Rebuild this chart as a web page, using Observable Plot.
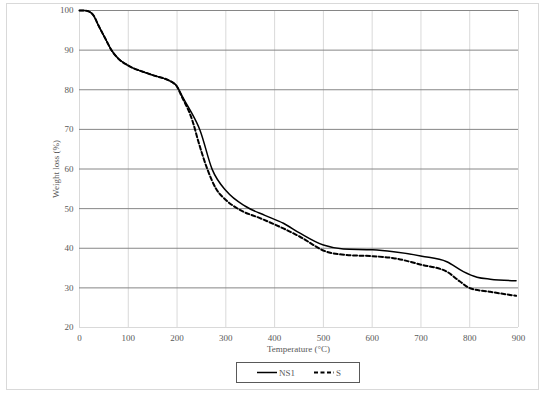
<!DOCTYPE html>
<html><head><meta charset="utf-8">
<script src="https://cdn.jsdelivr.net/npm/d3@7"></script>
<script src="https://cdn.jsdelivr.net/npm/@observablehq/plot@0.6"></script>
<style>
body{margin:0;background:#fff;width:550px;height:403px;position:relative;overflow:hidden;font-family:'Liberation Serif','Times New Roman',serif;}
#frame{position:absolute;left:6px;top:3px;width:533px;height:387px;border:1px solid #d9d9d9;box-sizing:border-box;}
#chart{position:absolute;left:0;top:0;}
#xlabel{position:absolute;left:0;width:550px;text-align:center;top:344px;font-size:9px;color:#595959;padding-left:47px;box-sizing:border-box;}
#ylabel{position:absolute;left:56px;top:169px;font-size:9px;color:#595959;transform:translate(-50%,-50%) rotate(-90deg);white-space:nowrap;}
#legend{position:absolute;left:236px;top:362px;width:124px;height:21px;border:1px solid #595959;box-sizing:border-box;}
</style></head>
<body>
<div id="frame"></div>
<div id="chart"></div>
<div id="xlabel">Temperature (°C)</div>
<div id="ylabel">Weight loss (%)</div>
<div id="legend"></div>
<script>
const xTicks = [0,100,200,300,400,500,600,700,800,900];
const yTicks = [20,30,40,50,60,70,80,90,100];
const seriesNames = ["NS1","S"];

const tempNS1 = [0,10,18,24,29,39,53,66,80,100,145,196,213,227,247,272,302,340,380,418,452,500,541,601,644,702,753,787,815,842,895];
const weightNS1 = [100,100,99.8,99.4,98.7,96.2,92.9,89.9,87.8,86.1,83.9,81.4,77.8,74.8,69.8,59.9,54.3,50.6,48.3,46.3,43.8,40.8,39.8,39.6,39.1,38.0,36.6,34.1,32.7,32.2,31.8];

const tempS = [0,10,18,24,29,39,53,66,80,100,145,196,210,232,244,262,280,300,330,370,418,452,507,548,601,644,702,753,780,801,842,895];
const weightS = [100,100,99.8,99.4,98.7,96.2,92.9,89.9,87.8,86.1,83.9,81.4,78.2,72.0,66.8,60.0,55.0,52.2,49.6,47.6,45.0,42.9,39.1,38.3,38.0,37.5,35.8,34.1,31.6,29.9,29.0,28.0];

const dataNS1 = tempNS1.map((t,i)=>({t, w: weightNS1[i]}));
const dataS = tempS.map((t,i)=>({t, w: weightS[i]}));

const chart = Plot.plot({
  width: 550, height: 345,
  marginLeft: 79, marginRight: 32, marginTop: 10, marginBottom: 18,
  style: {fontFamily: "'Liberation Serif','Times New Roman',serif", fontSize: "9px", background: "transparent", overflow: "visible"},
  x: {domain: [0, 900]},
  y: {domain: [20, 100]},
  marks: [
    Plot.ruleX(xTicks, {stroke: "#d9d9d9", strokeOpacity: 1}),
    Plot.ruleY(yTicks.filter(v => v > 20), {stroke: "#868686", strokeOpacity: 1}),
    Plot.ruleY([20], {stroke: "#d9d9d9", strokeOpacity: 1}),
    Plot.axisX({ticks: xTicks, tickSize: 0, tickPadding: 7.5, fill: "#595959", label: null}),
    Plot.axisY({ticks: yTicks, tickSize: 0, tickPadding: 6, fill: "#595959", label: null}),
    Plot.line(dataNS1, {x: "t", y: "w", curve: "monotone-x", stroke: "#000", strokeWidth: 1.5}),
    Plot.line(dataS, {x: "t", y: "w", curve: "monotone-x", stroke: "#000", strokeWidth: 2, strokeDasharray: "4,2.5"})
  ]
});
document.getElementById("chart").appendChild(chart);

// legend
const lg = d3.select("#legend").append("svg").attr("width", 122).attr("height", 19);
const items = [{name: seriesNames[0], x: 20, dash: null, w: 1.5}, {name: seriesNames[1], x: 77, dash: "4,2.5", w: 2}];
items.forEach(it => {
  lg.append("line").attr("x1", it.x).attr("x2", it.x + 20).attr("y1", 9.5).attr("y2", 9.5)
    .attr("stroke", "#000").attr("stroke-width", it.w).attr("stroke-dasharray", it.dash);
  lg.append("text").attr("x", it.x + 22).attr("y", 12.5).attr("font-size", 9)
    .attr("font-family", "'Liberation Serif',serif").attr("fill", "#595959").text(it.name);
});
</script>
</body></html>
